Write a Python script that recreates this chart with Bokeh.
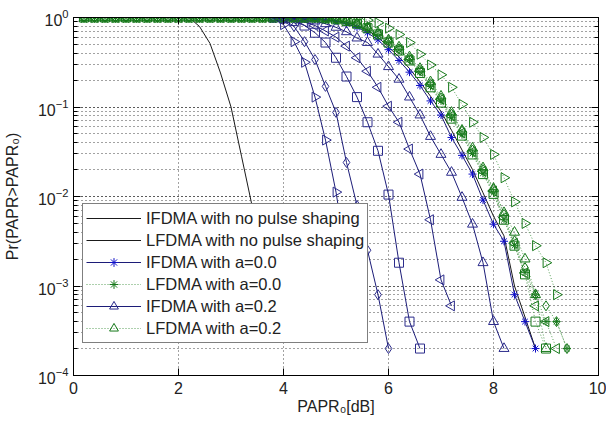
from bokeh.plotting import figure
from bokeh.models import (Range1d, LogAxis, LinearAxis, Legend, LegendItem, FixedTicker,
                          CustomLabelingPolicy)
from bokeh.embed import file_html
from bokeh.resources import INLINE
import math

nan = float("nan")

# ---------------- data ----------------
x_ticks = [0, 2, 4, 6, 8, 10]

# no pulse shaping (black)
x_if_none = [0.2, 2.2, 2.4, 2.6, 2.8, 3.0, 3.2, 3.4, 3.6, 3.8]
y_if_none = [1.0, 1.0, 0.794, 0.513, 0.24, 0.1, 0.0282, 0.00794, 0.00178, 0.0004]

x_lf_none = [0.2, 4.4, 4.8, 5.2, 5.6, 5.8, 6.0, 6.2, 6.4, 6.6, 6.8, 7.0, 7.2, 7.4, 7.6, 7.8, 8.0, 8.2, 8.4, 8.6, 8.8]
y_lf_none = [1.0, 0.99, 0.955, 0.891, 0.724, 0.603, 0.468, 0.363, 0.269, 0.191, 0.132, 0.0891, 0.055, 0.0331, 0.02,
             0.011, 0.00603, 0.00363, 0.001, 0.00045, 0.0002]

# IFDMA with raised-cosine pulse shaping (blue)
x_if_a00 = [3.8, 4.0, 4.2, 4.4, 4.6, 4.8, 5.0, 5.2, 5.4, 5.6, 5.8, 6.0, 6.2, 6.4, 6.6, 6.8, 7.0, 7.2, 7.4, 7.6,
            7.8, 8.0, 8.2, 8.4, 8.6, 8.8]
y_if_a00 = [1.0, 1.0, 1.0, 0.977, 0.955, 0.933, 0.912, 0.851, 0.776, 0.676, 0.562, 0.437, 0.331, 0.245, 0.174,
            0.117, 0.0813, 0.0457, 0.0288, 0.0178, 0.00912, 0.0049, 0.00316, 0.0008, 0.0004, 0.0002]

x_if_a02 = [3.8, 4.0, 4.2, 4.4, 4.6, 4.8, 5.0, 5.2, 5.4, 5.6, 5.8, 6.0, 6.2, 6.4, 6.6, 6.8, 7.0, 7.2, 7.4, 7.6,
            7.8, 8.0, 8.2]
y_if_a02 = [1.0, 1.0, 0.977, 0.955, 0.912, 0.851, 0.776, 0.692, 0.589, 0.525, 0.389, 0.282, 0.204, 0.129, 0.0813,
            0.0468, 0.0295, 0.0186, 0.00977, 0.0049, 0.00182, 0.0004, 0.0002]

x_if_a04 = [3.8, 4.0, 4.2, 4.4, 4.6, 4.8, 5.0, 5.2, 5.4, 5.6, 5.8, 6.0, 6.2, 6.4, 6.6, 6.8, 7.0, 7.2]
y_if_a04 = [1.0, 1.0, 0.955, 0.891, 0.813, 0.708, 0.603, 0.479, 0.355, 0.251, 0.166, 0.102, 0.0676, 0.0339,
            0.0178, 0.0055, 0.00117, 0.0006]

x_if_a06 = [3.8, 4.0, 4.2, 4.4, 4.6, 4.8, 5.0, 5.2, 5.4, 5.6, 5.8, 6.0, 6.2, 6.4, 6.6]
y_if_a06 = [1.0, 0.977, 0.912, 0.813, 0.676, 0.525, 0.355, 0.219, 0.129, 0.0676, 0.0324, 0.0105, 0.00182,
            0.0004, 0.0002]

x_if_a08 = [3.8, 4.0, 4.2, 4.4, 4.6, 4.8, 5.0, 5.2, 5.4, 5.6, 5.8, 6.0]
y_if_a08 = [1.0, 0.955, 0.794, 0.537, 0.339, 0.170, 0.0871, 0.024, 0.00794, 0.00251, 0.0008, 0.0002]

x_if_a10 = [3.8, 4.0, 4.2, 4.4, 4.6, 4.8, 5.0, 5.2, 5.4]
y_if_a10 = [1.0, 0.832, 0.537, 0.316, 0.129, 0.0427, 0.0112, 0.002, 0.0004]

# LFDMA with raised-cosine pulse shaping (green)
x_lfdma = [0.2, 0.4, 0.6, 0.8, 1.0, 1.2, 1.4, 1.6, 1.8, 2.0, 2.2, 2.4, 2.6, 2.8, 3.0, 3.2, 3.4, 3.6, 3.8, 4.0,
           4.2, 4.4, 4.6, 4.8, 5.0, 5.2, 5.4, 5.6, 5.8, 6.0, 6.2, 6.4, 6.6, 6.8, 7.0, 7.2, 7.4, 7.6, 7.8, 8.0,
           8.2, 8.4, 8.6, 8.8, 9.0, 9.2, 9.4]
y_lf_a00 = [1.0, 1.0, 1.0, 1.0, 1.0, 1.0, 1.0, 1.0, 1.0, 1.0, 1.0, 1.0, 1.0, 1.0, 1.0, 1.0, 1.0, 1.0, 1.0, 1.0,
            1.0, 1.0, 1.0, 0.977, 0.955, 0.912, 0.851, 0.759, 0.646, 0.537, 0.437, 0.339, 0.245, 0.170, 0.117,
            0.0759, 0.049, 0.0302, 0.0182, 0.011, 0.0055, 0.00282, 0.00141, 0.0008, 0.0004, 0.0004, 0.0002]
y_lf_a02 = [1.0, 1.0, 1.0, 1.0, 1.0, 1.0, 1.0, 1.0, 1.0, 1.0, 1.0, 1.0, 1.0, 1.0, 1.0, 1.0, 1.0, 1.0, 1.0, 1.0,
            1.0, 1.0, 1.0, 0.977, 0.955, 0.912, 0.851, 0.776, 0.676, 0.562, 0.468, 0.363, 0.269, 0.191, 0.132,
            0.0871, 0.055, 0.0347, 0.0209, 0.0123, 0.0066, 0.00398, 0.002, 0.0008, 0.0002, nan, nan]
y_lf_a04 = [1.0, 1.0, 1.0, 1.0, 1.0, 1.0, 1.0, 1.0, 1.0, 1.0, 1.0, 1.0, 1.0, 1.0, 1.0, 1.0, 1.0, 1.0, 1.0, 1.0,
            1.0, 1.0, 1.0, 0.977, 0.955, 0.912, 0.851, 0.759, 0.646, 0.537, 0.437, 0.339, 0.251, 0.178, 0.122,
            0.0794, 0.0513, 0.0316, 0.0191, 0.0115, 0.0058, 0.003, 0.0014, 0.0006, 0.0004, 0.0002, nan]
y_lf_a06 = [1.0, 1.0, 1.0, 1.0, 1.0, 1.0, 1.0, 1.0, 1.0, 1.0, 1.0, 1.0, 1.0, 1.0, 1.0, 1.0, 1.0, 1.0, 1.0, 1.0,
            1.0, 1.0, 1.0, 0.977, 0.955, 0.912, 0.851, 0.759, 0.646, 0.525, 0.427, 0.331, 0.240, 0.166, 0.112,
            0.0741, 0.0479, 0.0295, 0.0178, 0.0107, 0.0055, 0.00282, 0.00135, 0.0004, 0.0002, nan, nan]
y_lf_a08 = [1.0, 1.0, 1.0, 1.0, 1.0, 1.0, 1.0, 1.0, 1.0, 1.0, 1.0, 1.0, 1.0, 1.0, 1.0, 1.0, 1.0, 1.0, 1.0, 1.0,
            1.0, 1.0, 1.0, 0.977, 0.955, 0.933, 0.871, 0.776, 0.661, 0.550, 0.447, 0.347, 0.257, 0.182, 0.126,
            0.0832, 0.0537, 0.0331, 0.02, 0.012, 0.0063, 0.0032, 0.0016, 0.0008, 0.0006, 0.0004, 0.0002]
y_lf_a10 = [1.0, 1.0, 1.0, 1.0, 1.0, 1.0, 1.0, 1.0, 1.0, 1.0, 1.0, 1.0, 1.0, 1.0, 1.0, 1.0, 1.0, 1.0, 1.0, 1.0,
            1.0, 1.0, 1.0, 1.0, 1.0, 1.0, 0.977, 0.933, 0.871, 0.759, 0.646, 0.525, 0.389, 0.295, 0.229,
            0.166, 0.107, 0.0676, 0.0457, 0.0295, 0.0162, 0.00871, 0.005, 0.00282, 0.00182, 0.0008, nan]

labels = ["IFDMA with no pulse shaping", "LFDMA with no pulse shaping",
          "IFDMA with a=0.0", "LFDMA with a=0.0", "IFDMA with a=0.2", "LFDMA with a=0.2"]

# ---------------- styling ----------------
FONT = "Liberation Sans"
BLACK = "#1a1a1a"
BLUE_LINE = "#1c1c78"
BLUE_MK = "#2c2c8c"
BLUE_STAR = "#1010c8"
GREEN_MK = "#16791a"
GREEN_LINE = "#5aa05a"

p = figure(frame_width=525, frame_height=358, x_range=Range1d(0, 10), y_range=Range1d(1e-4, 1),
           y_axis_type="log", output_backend="svg", toolbar_location=None,
           min_border_left=65, min_border_right=8, min_border_top=17, min_border_bottom=36)
p.background_fill_color = "white"
p.border_fill_color = "white"
p.outline_line_color = "black"
p.outline_line_width = 1

xt = FixedTicker(ticks=x_ticks)
p.xaxis.ticker = xt
p.xgrid.ticker = xt

for ax in (p.xaxis[0], p.yaxis[0]):
    ax.major_tick_in = 7
    ax.major_tick_out = 0
    ax.minor_tick_in = 4
    ax.minor_tick_out = 0
    ax.axis_line_color = "black"
    ax.major_tick_line_color = "black"
    ax.minor_tick_line_color = "black"
    ax.major_label_text_font = FONT
    ax.major_label_text_font_size = "16px"
    ax.major_label_text_color = "#222222"
    ax.axis_label_text_font = FONT
    ax.axis_label_text_font_size = "16px"
    ax.axis_label_text_font_style = "normal"
    ax.axis_label_text_color = "#222222"

p.xaxis.axis_label = "PAPR₀[dB]"
p.yaxis.axis_label = "Pr(PAPR>PAPR₀)"
p.xaxis.major_label_standoff = 6
p.xaxis.axis_label_standoff = 1
p.yaxis.major_label_standoff = 5
p.yaxis.axis_label_standoff = 14

for g in (p.xgrid[0], p.ygrid[0]):
    g.grid_line_color = "#444444"
    g.grid_line_dash = "1 3"
    g.grid_line_width = 1
p.ygrid.minor_grid_line_color = "#444444"
p.ygrid.minor_grid_line_dash = "1 3"

no_labels_code = "const ids = Array.from(indices); for (const i of ids) { indices.unset(i) } return indices"
top = LinearAxis(ticker=FixedTicker(ticks=x_ticks), major_tick_in=7, major_tick_out=0,
                 minor_tick_in=0, minor_tick_out=0, major_label_standoff=0, axis_line_color="black",
                 major_label_text_font_size="1px",
                 major_label_policy=CustomLabelingPolicy(code=no_labels_code))
p.add_layout(top, "above")
right = LogAxis(major_tick_in=7, major_tick_out=0, minor_tick_in=4, minor_tick_out=0,
                major_label_standoff=0, axis_line_color="black", major_label_text_font_size="1px",
                major_label_policy=CustomLabelingPolicy(code=no_labels_code))
p.add_layout(right, "right")


def curve(xs, ys, line_color, dash, marker=None, mk_color=None, size=9, angle=0.0):
    rs = [p.line(xs, ys, line_color=line_color, line_width=1, line_dash=dash)]
    if marker is not None:
        rs.append(p.scatter(xs, ys, marker=marker, size=size, angle=angle, fill_color=None,
                            line_color=mk_color, line_width=1))
    return rs


r_if_none = curve(x_if_none, y_if_none, BLACK, "solid")
r_lf_none = curve(x_lf_none, y_lf_none, BLACK, "solid")
r_if_a00 = curve(x_if_a00, y_if_a00, BLUE_LINE, "solid", "asterisk", BLUE_STAR, 8)
r_lf_a00 = curve(x_lfdma, y_lf_a00, GREEN_LINE, "1 2", "asterisk", GREEN_MK, 8)
r_if_a02 = curve(x_if_a02, y_if_a02, BLUE_LINE, "solid", "triangle", BLUE_MK, 10)
r_lf_a02 = curve(x_lfdma, y_lf_a02, GREEN_LINE, "1 2", "triangle", GREEN_MK, 10)
r_if_a04 = curve(x_if_a04, y_if_a04, BLUE_LINE, "solid", "triangle", BLUE_MK, 10, math.pi / 2)
r_lf_a04 = curve(x_lfdma, y_lf_a04, GREEN_LINE, "1 2", "triangle", GREEN_MK, 10, math.pi / 2)
r_if_a06 = curve(x_if_a06, y_if_a06, BLUE_LINE, "solid", "square", BLUE_MK, 9)
r_lf_a06 = curve(x_lfdma, y_lf_a06, GREEN_LINE, "1 2", "square", GREEN_MK, 9)
r_if_a08 = curve(x_if_a08, y_if_a08, BLUE_LINE, "solid", "diamond", BLUE_MK, 10)
r_lf_a08 = curve(x_lfdma, y_lf_a08, GREEN_LINE, "1 2", "diamond", GREEN_MK, 10)
r_if_a10 = curve(x_if_a10, y_if_a10, BLUE_LINE, "solid", "triangle", BLUE_MK, 10, -math.pi / 2)
r_lf_a10 = curve(x_lfdma, y_lf_a10, GREEN_LINE, "1 2", "triangle", GREEN_MK, 10, -math.pi / 2)

items = [LegendItem(label=lab, renderers=rs) for lab, rs in
         zip(labels, [r_if_none, r_lf_none, r_if_a00, r_lf_a00, r_if_a02, r_lf_a02])]
legend = Legend(items=items, location=(9, 32), border_line_color="black", border_line_width=1,
                background_fill_color="white", background_fill_alpha=1.0, padding=3, spacing=0,
                margin=0, glyph_width=55, glyph_height=22, label_height=22, label_standoff=5,
                label_text_font=FONT, label_text_font_size="16.5px", label_text_color="#222222")
p.add_layout(legend)

open("out.html", "w").write(file_html(p, INLINE))
